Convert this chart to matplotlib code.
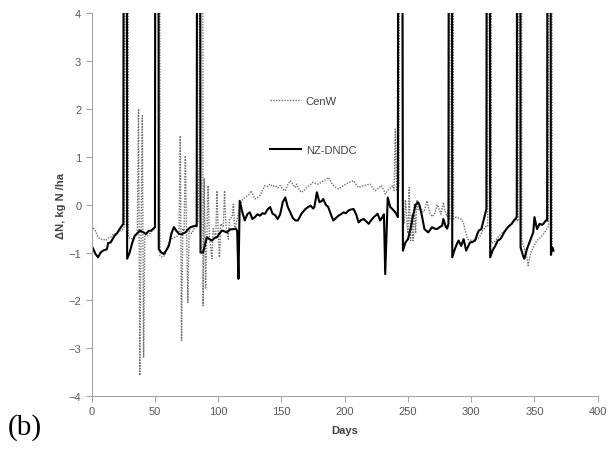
import numpy as np
import matplotlib.pyplot as plt

plt.rcParams['font.family'] = ['Liberation Sans', 'DejaVu Sans']

# NZ-DNDC daily change (values of 30 are off-scale peaks)
nz_days = [0, 3, 5, 7, 9, 12, 13, 15, 18, 20, 22, 25, 26, 27, 28, 30, 32, 34, 36, 38,
           41, 43, 45, 47, 50, 51, 52, 53, 55, 57, 59, 61, 63, 65, 67, 69, 71, 74, 76, 78,
           82, 83, 84, 85, 86, 88, 91, 93, 95, 97, 99, 101, 103, 105, 107, 109, 112, 114, 115, 116,
           117, 119, 121, 123, 125, 127, 129, 131, 133, 135, 137, 139, 141, 143, 145, 147, 149, 151, 153, 155,
           157, 159, 161, 163, 166, 169, 171, 173, 175, 176, 178, 180, 182, 183, 185, 187, 189, 191, 193, 195,
           197, 199, 201, 203, 205, 207, 209, 211, 213, 215, 217, 219, 221, 223, 226, 228, 230, 231, 232, 234,
           236, 238, 240, 242, 243, 244, 246, 248, 250, 252, 254, 256, 258, 259, 261, 263, 266, 269, 271, 273,
           275, 277, 278, 280, 281, 282, 283, 284, 285, 287, 289, 290, 292, 294, 296, 298, 299, 301, 303, 305,
           306, 308, 310, 312, 313, 314, 315, 317, 319, 321, 323, 324, 326, 327, 329, 331, 332, 334, 335, 336,
           337, 338, 339, 341, 342, 344, 346, 348, 349, 350, 352, 354, 356, 357, 359, 360, 361, 362, 363, 364,
           365]
nz_vals = [-0.86, -1.03, -1.10, -1.0, -0.96, -0.93, -0.80, -0.79, -0.65, -0.60, -0.51, -0.40, 30, 30, -1.13, -1.0, -0.8, -0.65, -0.60, -0.54,
           -0.58, -0.61, -0.55, -0.54, -0.47, 30, 30, -0.93, -1.0, -1.03, -0.95, -0.86, -0.6, -0.47, -0.55, -0.61, -0.62, -0.58, -0.52, -0.47,
           -0.44, -0.45, 30, 30, -1.0, -1.0, -0.68, -0.72, -0.75, -0.7, -0.68, -0.6, -0.54, -0.56, -0.58, -0.52, -0.51, -0.50, -0.55, -1.55,
           0.08, -0.15, -0.33, -0.2, -0.16, -0.3, -0.26, -0.2, -0.23, -0.18, -0.19, -0.1, -0.05, -0.19, -0.22, -0.30, -0.2, 0.05, 0.15, -0.05,
           -0.16, -0.28, -0.33, -0.33, -0.18, -0.09, -0.05, -0.02, -0.08, -0.05, 0.26, 0.05, 0.08, 0.12, 0.0, -0.05, -0.2, -0.33, -0.28, -0.23,
           -0.2, -0.16, -0.18, -0.12, -0.1, -0.09, -0.2, -0.37, -0.32, -0.30, -0.35, -0.40, -0.32, -0.26, -0.19, -0.33, -0.25, -0.2, -1.45, 0.15,
           -0.05, -0.1, -0.16, -0.26, 30, 30, -0.96, -0.79, -0.72, -0.51, -0.23, 0.0, 0.05, 0.0, -0.23, -0.51, -0.58, -0.47, -0.5, -0.51,
           -0.47, -0.44, -0.30, -0.47, -0.5, -0.4, 30, 30, -1.10, -0.93, -0.8, -0.75, -0.86, -0.72, -0.96, -0.85, -0.79, -0.78, -0.75, -0.6,
           -0.54, -0.51, -0.30, -0.09, 30, 30, -1.10, -0.95, -0.86, -0.75, -0.72, -0.68, -0.58, -0.54, -0.47, -0.42, -0.40, -0.32, -0.30, -0.25,
           30, 30, -0.89, -1.07, -1.13, -0.93, -0.79, -0.65, -0.58, -0.26, -0.51, -0.40, -0.42, -0.40, -0.33, -0.33, 30, 30, -1.05, -0.89,
           -0.96]

# CenW daily change
cw_days = [0, 3, 5, 7, 9, 11, 13, 15, 17, 19, 21, 23, 25, 26, 27, 28, 29, 31, 33, 35,
           36, 37, 38, 39, 40, 41, 42, 44, 46, 48, 50, 52, 53, 54, 56, 58, 60, 62, 64, 66,
           68, 69, 70, 71, 72, 73, 74, 75, 76, 77, 79, 81, 83, 84, 85, 86, 87, 88, 89, 90,
           91, 92, 93, 95, 96, 98, 99, 100, 101, 102, 104, 105, 106, 108, 109, 111, 112, 113, 115, 117,
           119, 121, 124, 126, 129, 131, 133, 135, 137, 139, 141, 143, 145, 147, 149, 151, 153, 155, 157, 159,
           161, 162, 164, 166, 168, 170, 172, 175, 177, 179, 181, 183, 185, 187, 189, 191, 193, 195, 197, 199,
           201, 203, 205, 207, 209, 211, 213, 215, 217, 220, 222, 224, 226, 229, 231, 232, 234, 236, 238, 239,
           240, 241, 242, 243, 244, 245, 246, 247, 248, 249, 250, 251, 252, 253, 254, 255, 256, 257, 258, 260,
           262, 263, 265, 267, 269, 271, 273, 274, 276, 278, 279, 281, 282, 283, 284, 285, 286, 288, 290, 292,
           294, 295, 297, 299, 301, 303, 305, 307, 309, 311, 312, 313, 314, 315, 316, 318, 320, 322, 324, 326,
           328, 330, 332, 334, 336, 337, 338, 339, 340, 342, 344, 345, 347, 349, 351, 353, 355, 357, 359, 360,
           361, 362, 363, 364]
cw_vals = [-0.44, -0.55, -0.68, -0.72, -0.72, -0.75, -0.7, -0.68, -0.62, -0.6, -0.56, -0.54, -0.5, -0.45, 30, 30, -0.68, -0.72, -0.7, -0.62,
           -0.6, 2.0, -3.57, -0.6, 1.86, -3.2, -0.62, -0.65, -0.6, -0.55, -0.5, 30, 30, -1.07, -1.10, -1.05, -0.86, -0.75, -0.7, -0.68,
           -0.65, -0.6, 1.44, -2.84, -0.5, -0.55, 1.02, -0.6, -2.04, -0.55, -0.6, -0.5, -0.4, -0.35, 1.16, 30, 30, -2.11, 0.54, -1.76,
           -0.6, 0.40, -0.65, -1.13, -0.5, -0.7, 0.29, -0.6, -1.10, -0.4, -0.45, 0.29, -0.4, -0.72, -0.3, -0.25, 0.01, -0.54, -0.3, -0.02,
           0.1, 0.15, 0.2, 0.29, 0.12, 0.15, 0.19, 0.3, 0.40, 0.38, 0.43, 0.38, 0.40, 0.35, 0.40, 0.33, 0.29, 0.42, 0.50, 0.42,
           0.36, 0.43, 0.30, 0.26, 0.30, 0.36, 0.4, 0.47, 0.44, 0.43, 0.46, 0.50, 0.52, 0.57, 0.48, 0.40, 0.36, 0.33, 0.36, 0.40,
           0.43, 0.47, 0.48, 0.50, 0.42, 0.36, 0.38, 0.40, 0.41, 0.43, 0.36, 0.29, 0.33, 0.40, 0.3, 0.22, 0.3, 0.35, 0.40, 0.3,
           1.58, 0.3, 0.35, 0.4, 30, 30, -0.05, -0.4, 0.1, -0.3, -0.6, 0.36, -0.75, -0.2, -0.75, 0.0, -0.6, 0.1, -0.1, -0.09,
           -0.15, -0.12, 0.08, -0.16, -0.25, -0.2, 0.0, -0.05, -0.2, 0.05, -0.12, -0.25, -0.1, -0.3, 30, 30, -0.30, -0.26, -0.28, -0.30,
           -0.4, -0.51, -0.72, -0.74, -0.75, -0.73, -0.72, -0.65, -0.54, -0.48, -0.44, -0.45, 30, 30, -0.8, -0.79, -0.72, -0.65, -0.6, -0.55,
           -0.5, -0.44, -0.4, -0.33, -0.3, -0.35, 30, 30, -0.75, -0.93, -1.1, -1.27, -1.0, -0.9, -0.79, -0.72, -0.68, -0.62, -0.54, -0.5,
           -0.45, 30, 30, -0.9]

fig = plt.figure(figsize=(6.09, 4.52), dpi=100)
ax = fig.add_axes([0.1506, 0.1215, 0.8309, 0.8469])

ax.plot(cw_days, cw_vals, color='#707070', lw=1.0, ls=(0, (1, 1)), label='CenW')
ax.plot(nz_days, nz_vals, color='black', lw=1.5, label='NZ-DNDC')

ax.set_xlim(0, 400)
ax.set_ylim(-4, 4)
ax.set_xticks(np.arange(0, 401, 50))
ax.set_yticks(np.arange(-4, 5, 1))

for s in ['top', 'right']:
    ax.spines[s].set_visible(False)
for s in ['left', 'bottom']:
    ax.spines[s].set_color('#a6a6a6')
    ax.spines[s].set_linewidth(0.8)
ax.tick_params(colors='#a6a6a6', labelcolor='#595959', labelsize=8, length=4, width=0.8)

ax.set_xlabel('Days', fontsize=8, fontweight='bold', color='#404040', labelpad=6)
ax.set_ylabel('ΔN, kg N /ha', fontsize=8, fontweight='bold', color='#404040', labelpad=2)

ax.legend(loc='upper left', bbox_to_anchor=(0.332, 0.81), frameon=False, fontsize=8,
          handlelength=2.8, handletextpad=0.45, labelspacing=3.5, labelcolor='#404040')

fig.text(0.012, 0.054, '(b)', fontsize=21, family='Liberation Serif', va='center', ha='left')

fig.savefig('out.png', dpi=100)
